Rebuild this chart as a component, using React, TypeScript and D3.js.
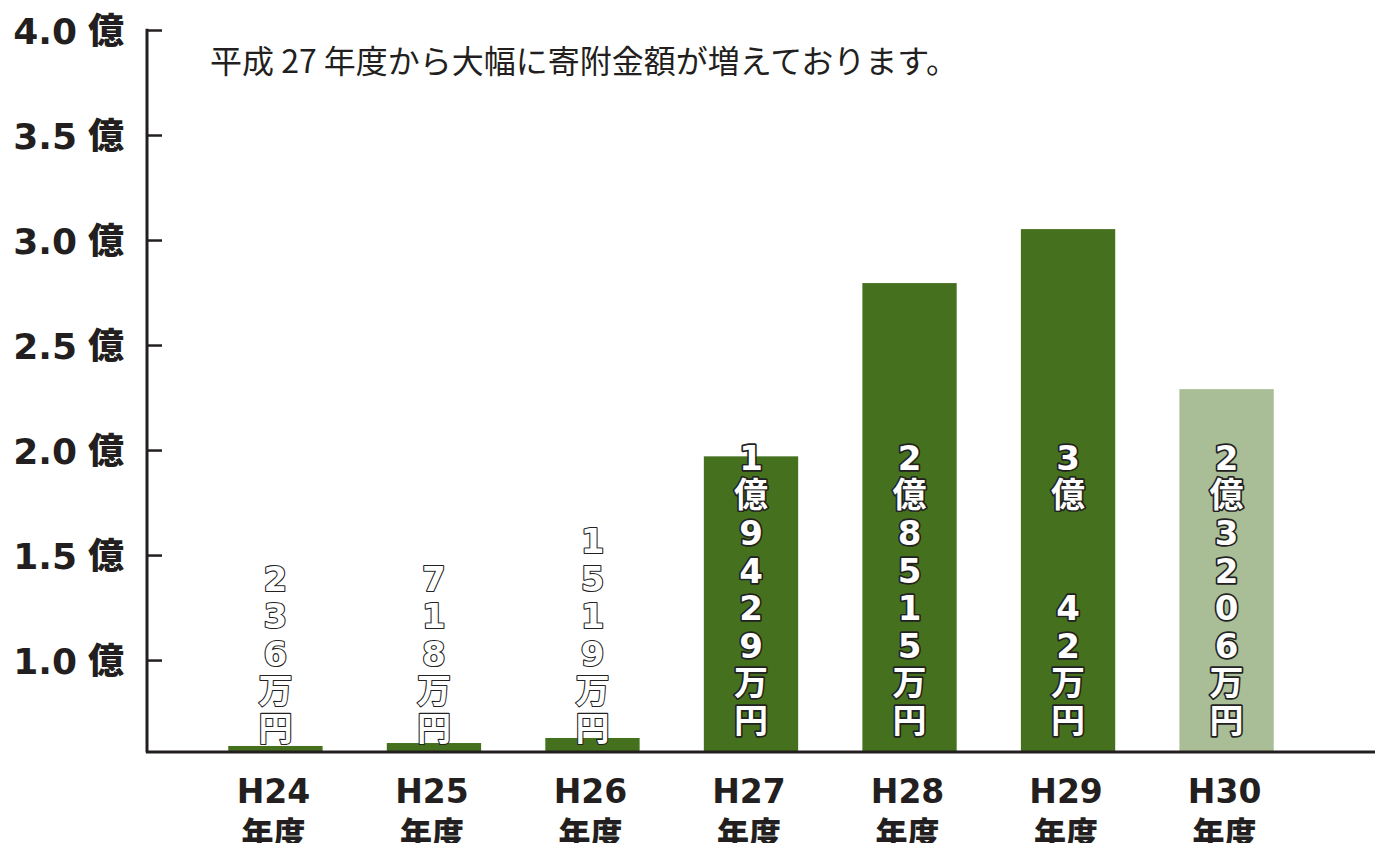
import * as d3 from 'd3'
import { useRef, useEffect } from 'react'

const years = ['H24', 'H25', 'H26', 'H27', 'H28', 'H29', 'H30']
// bar heights in 億, as drawn against the axis
const barValues = [0.591, 0.605, 0.629, 1.97, 2.795, 3.052, 2.29]
const barColors = ['#45711f', '#45711f', '#45711f', '#45711f', '#45711f', '#45711f', '#a9be96']
// vertical amount labels, one glyph per slot ('' = blank slot)
const amountLabels = [
  ['2', '3', '6', '万', '円'],
  ['7', '1', '8', '万', '円'],
  ['1', '5', '1', '9', '万', '円'],
  ['1', '億', '9', '4', '2', '9', '万', '円'],
  ['2', '億', '8', '5', '1', '5', '万', '円'],
  ['3', '億', '', '', '4', '2', '万', '円'],
  ['2', '億', '3', '2', '0', '6', '万', '円'],
]
const yTicks = [1.0, 1.5, 2.0, 2.5, 3.0, 3.5, 4.0]
const title = '平成 27 年度から大幅に寄附金額が増えております。'

const W = 1375
const H = 843
const FONT = '"DejaVu Sans", "Noto Sans CJK JP", sans-serif'

export default function App() {
  const svgRef = useRef(null)

  useEffect((): void => {
    const svg = d3.select(svgRef.current)
    svg.selectAll('*').remove()

    const x = d3.scaleBand()
      .domain(years)
      .range([149, 1353])
      .paddingInner(0.405)
      .paddingOuter(0.5)
    const y = d3.scaleLinear()
      .domain([0.567, 4.0])
      .range([751, 30])

    const base = y(0.567)

    // bars
    svg.selectAll('rect.bar')
      .data(barValues)
      .enter()
      .append('rect')
      .attr('class', 'bar')
      .attr('x', (d, i) => x(years[i])!)
      .attr('y', d => y(d))
      .attr('width', x.bandwidth())
      .attr('height', d => base - y(d))
      .attr('fill', (d, i) => barColors[i])

    // y axis
    const yAxis = d3.axisRight(y)
      .tickValues(yTicks)
      .tickSize(15)
      .tickFormat(() => '')
    const gy = svg.append('g')
      .attr('transform', 'translate(147,0)')
      .call(yAxis)
    gy.select('.domain').remove()
    gy.selectAll('line').attr('stroke', '#231f20').attr('stroke-width', 2.5)
    svg.append('line')
      .attr('x1', 147).attr('x2', 147)
      .attr('y1', y(4.0) - 1.2).attr('y2', base + 1.5)
      .attr('stroke', '#231f20').attr('stroke-width', 3)

    const yl = svg.selectAll('text.ytick')
      .data(yTicks)
      .enter()
      .append('text')
      .attr('class', 'ytick')
      .attr('x', 124)
      .attr('y', d => y(d) + 14)
      .attr('text-anchor', 'end')
      .attr('font-family', FONT)
      .attr('font-weight', 'bold')
      .attr('font-size', 36)
      .attr('fill', '#231f20')
    yl.append('tspan').text(d => d.toFixed(1))
    yl.append('tspan').attr('dx', 11).attr('font-family', '"Noto Sans CJK JP", sans-serif')
      .attr('font-weight', 900).text('億')

    // x axis
    svg.append('line')
      .attr('x1', 146).attr('x2', W)
      .attr('y1', base + 1).attr('y2', base + 1)
      .attr('stroke', '#231f20').attr('stroke-width', 3)

    const xl = svg.selectAll('g.xlab')
      .data(years)
      .enter()
      .append('g')
      .attr('class', 'xlab')
      .attr('transform', d => `translate(${x(d)! + x.bandwidth() / 2 - 2},0)`)
    xl.append('text')
      .attr('y', 803)
      .attr('text-anchor', 'middle')
      .attr('font-family', FONT)
      .attr('font-weight', 'bold')
      .attr('font-size', 33)
      .attr('fill', '#231f20')
      .text(d => d)
    xl.append('text')
      .attr('y', 845)
      .attr('text-anchor', 'middle')
      .attr('font-family', '"Noto Sans CJK JP", sans-serif')
      .attr('font-weight', 900)
      .attr('font-size', 32)
      .attr('fill', '#231f20')
      .text('年度')

    // amount labels stacked vertically
    const step = 37.6
    amountLabels.forEach((chars, i) => {
      const cx = x(years[i])! + x.bandwidth() / 2
      const small = barValues[i] < 1
      const lastY = base - (small ? 10 : 18)
      const n = chars.length
      svg.append('g')
        .selectAll('text')
        .data(chars)
        .enter()
        .append('text')
        .attr('x', cx)
        .attr('y', (d, j) => lastY - (n - 1 - j) * step)
        .attr('text-anchor', 'middle')
        .attr('font-family', FONT)
        .attr('font-weight', 'bold')
        .attr('font-size', 34)
        .attr('fill', '#fff')
        .attr('stroke', '#222')
        .attr('stroke-width', small ? 2.2 : 3.4)
        .attr('stroke-linejoin', 'round')
        .attr('paint-order', 'stroke')
        .text(d => d)
    })

    // note
    svg.append('text')
      .attr('x', 210)
      .attr('y', 73)
      .attr('font-family', '"Noto Sans CJK JP", sans-serif')
      .attr('font-size', 32)
      .attr('fill', '#231f20')
      .text(title)
  }, [])

  return (
    <svg ref={svgRef} width={W} height={H}
      style={{ position: 'absolute', left: 0, top: 0, background: '#fff' }} />
  )
}
